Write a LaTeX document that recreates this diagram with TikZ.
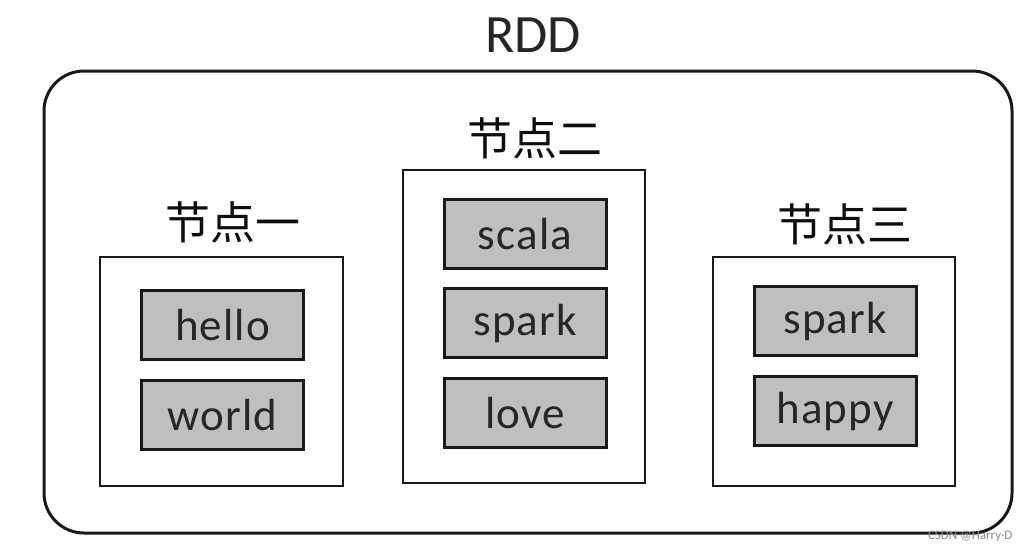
\documentclass[tikz,border=0pt]{standalone}
\usepackage{fontspec}
\setmainfont{Carlito}
\newfontfamily\cjk{Noto Sans CJK SC}
\begin{document}
\begin{tikzpicture}[x=1pt,y=-1pt,
  outer/.style={draw=black!90, line width=3pt, rounded corners=40pt},
  nodebox/.style={draw=black!90, line width=2.8pt, fill=white},
  item/.style={draw=black!90, line width=3pt, fill=black!25, minimum width=162pt, minimum height=69pt, font=\addfontfeatures{LetterSpace=2.5}\fontsize{45}{45}\selectfont, text=black!85},
  lab/.style={font=\cjk\fontsize{45}{45}\selectfont, text=black!95},
]
\useasboundingbox (0,0) rectangle (1030,552);
\fill[white] (0,0) rectangle (1030,552);
\draw[outer] (44,71) rectangle (1012,533);
\node[font=\fontsize{54}{54}\selectfont, text=black!85] (rdd) at (533,35) {RDD};
% node one
\draw[nodebox] (100,257) rectangle (343,486);
\node[lab] (l1) at (233,222) {节点一};
\node[item] (hello) at (222.5,325) {hello};
\node[item] (world) at (222.5,415) {world};
% node two
\draw[nodebox] (403,170) rectangle (645,483);
\node[lab] (l2) at (535,138) {节点二};
\node[item] (scala) at (525,234) {scala};
\node[item] (spark1) at (525,323) {spark};
\node[item] (love) at (525,413) {love};
% node three
\draw[nodebox] (713,257) rectangle (955,486);
\node[lab] (l3) at (845,224) {节点三};
\node[item] (spark2) at (835,321) {spark};
\node[item] (happy) at (835,411) {happy};
\node[font=\fontsize{13}{13}\selectfont, text=black!45, anchor=east] (wm) at (1016,536) {CSDN @Harry·D};
\end{tikzpicture}
\end{document}
